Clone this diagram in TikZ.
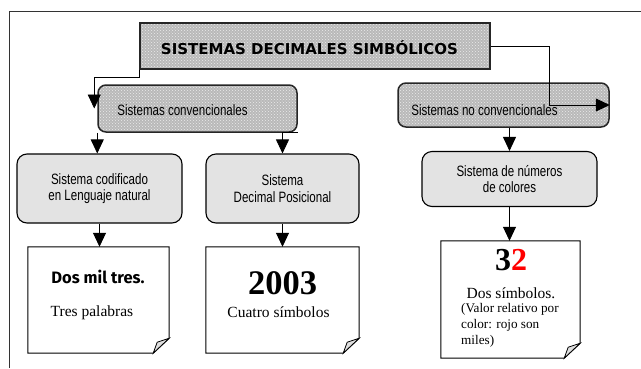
\documentclass[tikz,border=0pt]{standalone}
\usepackage{fontspec}
\setmainfont{Liberation Serif}
\newfontfamily\narrowfont[FakeStretch=0.77]{Liberation Sans}
\newfontfamily\titlefont{DejaVu Sans}
\newfontfamily\handfont{Fira Sans}
\usepackage{tikz}
\usetikzlibrary{arrows.meta,positioning,calc,patterns}

\begin{document}
\begin{tikzpicture}[x=1pt, y=-1pt,
    patbox/.style={rectangle, draw=black!85, line width=1.5pt, preaction={fill=gray!55}, pattern=crosshatch dots, pattern color=gray!15, inner sep=0pt},
    concept/.style={rectangle, rounded corners=10pt, draw=black, line width=1.1pt, fill=gray!22, inner sep=0pt, align=center, font=\narrowfont\fontsize{15}{16.5}\selectfont},
    note/.style={rectangle, inner sep=0pt},
    lbl/.style={inner sep=0pt, font=\narrowfont\fontsize{15}{16}\selectfont},
    arr/.style={-{Triangle[width=13pt,length=14pt]}, line width=0.8pt}
]
\useasboundingbox (0,0) rectangle (641,368);
\draw[line width=1pt, black!80] (9,368) -- (9,11) -- (641,11);

\node[patbox, minimum width=350pt, minimum height=46pt] (title) at (315,46) {};
\node[inner sep=0pt, font=\titlefont\bfseries\fontsize{15}{17}\selectfont] (titletxt) at (309.5,48) {SISTEMAS DECIMALES SIMBÓLICOS};

\node[patbox, rounded corners=8pt, minimum width=199pt, minimum height=47pt] (conv) at (197.5,108.5) {};
\node[lbl] (convtxt) at (182.5,110) {Sistemas convencionales};
\node[patbox, rounded corners=8pt, minimum width=211pt, minimum height=44pt] (noconv) at (503.5,105) {};
\node[lbl] (noconvtxt) at (484.5,110) {Sistemas no convencionales};

\node[concept, minimum width=165pt, minimum height=69pt] (A) at (99.5,188.5) {Sistema codificado\\en Lenguaje natural};
\node[concept, minimum width=153pt, minimum height=69pt] (B) at (282.5,188.5) {Sistema\\Decimal Posicional};
\node[concept, minimum width=175pt, minimum height=55pt] (C) at (509.5,179) {Sistema de números\\de colores};

\node[note, minimum width=141pt, minimum height=106pt] (D) at (98.5,300) {};
\node[note, minimum width=153pt, minimum height=106pt] (E) at (282.5,300) {};
\node[note, minimum width=139pt, minimum height=117pt] (F) at (510.5,299.5) {};
\foreach \n in {D,E,F}{
  \draw[line width=1pt] (\n.north west) -- (\n.north east) -- ($(\n.south east)+(0,-15)$) -- ($(\n.south east)+(-16,0)$) -- (\n.south west) -- cycle;
  \draw[line width=0.8pt, fill=gray!25] ($(\n.south east)+(0,-15)$) -- ($(\n.south east)+(-12,-11)$) -- ($(\n.south east)+(-16,0)$) -- cycle;
}

\node[inner sep=0pt, font=\handfont\bfseries\fontsize{16.5}{18}\selectfont] (Dtop) at (98,277) {Dos mil tres.};
\node[inner sep=0pt, font=\fontsize{15.5}{18}\selectfont] (Dbot) at (92,313) {Tres palabras};
\node[inner sep=0pt, font=\bfseries\fontsize{34.5}{40}\selectfont] (Etop) at (282.5,283) {2003};
\node[inner sep=0pt, font=\fontsize{15.5}{18}\selectfont] (Ebot) at (278.5,312) {Cuatro símbolos};
\node[inner sep=0pt, font=\bfseries\fontsize{32}{36}\selectfont] (Ftop) at (511,260) {3\textcolor{red}{2}};
\node[inner sep=0pt, font=\fontsize{15.5}{18}\selectfont] (Fmid) at (511,293) {Dos símbolos.};
\node[inner sep=0pt, anchor=west, align=left, font=\fontsize{13.2}{16}\selectfont] (Fbot) at (461,325) {(Valor relativo por\\color: rojo son\\miles)};

\draw[arr] (title.south west) -- ++(0,8) -| ($(conv.west)+(-3,0)$);
\draw[arr] (title.east) -- ++(59,0) |- (noconv.east);
\draw[arr] (conv.south west) -- (conv.south west |- A.north);
\draw[arr] (conv.south east) -| (B.north);
\draw[arr] (noconv.south -| C.north) -- (C.north);
\draw[arr] (A.south) -- (A.south |- D.north);
\draw[arr] (B.south) -- (E.north);
\draw[arr] (C.south) -- (C.south |- F.north);
\end{tikzpicture}
\end{document}
